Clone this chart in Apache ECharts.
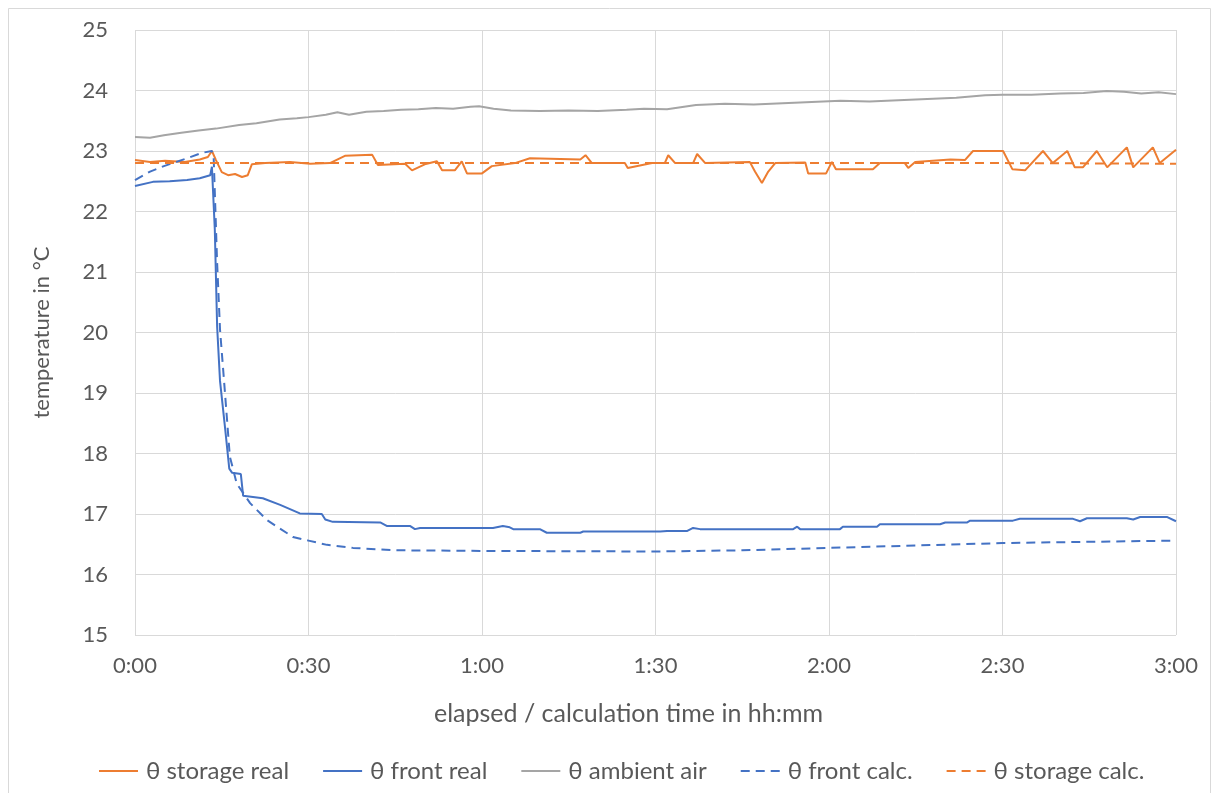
<!DOCTYPE html>
<html>
<head>
<meta charset="utf-8">
<script src="https://cdn.jsdelivr.net/npm/echarts@6/dist/echarts.min.js"></script>
<style>
  html, body { margin: 0; padding: 0; background: #ffffff; }
  #chart { width: 1215px; height: 793px; }
</style>
</head>
<body>
<div id="chart"></div>
<script>
// Elapsed time in minutes, temperatures in °C
const storageRealT = [0, 2.6, 5.2, 8.6, 11.2, 12.6, 13.3, 14, 15, 16.1, 17.3, 18.5, 19.5, 20.2, 22.5, 26.8, 30.3, 33.7, 36.3, 41, 42, 46.7, 47.9, 50.1, 52.2, 53.1, 55.3, 56.5, 57.4, 60, 61.7, 65.7, 68.3, 77, 77.9, 79, 84.7, 85.2, 89.4, 91.6, 92.2, 93.4, 96.5, 97.2, 98.6, 106.3, 107.2, 108.4, 109.5, 110.7, 115.9, 116.4, 119.5, 120.5, 121.2, 127.6, 128.8, 133.1, 133.7, 134.9, 141, 143.5, 144.9, 150.1, 151.7, 153.9, 157, 158.7, 161.2, 162.5, 163.9, 166.3, 168.1, 171.5, 172.6, 176, 177.2, 180];
const storageRealV = [22.85, 22.82, 22.84, 22.82, 22.86, 22.9, 23.0, 22.85, 22.65, 22.6, 22.62, 22.57, 22.6, 22.78, 22.8, 22.82, 22.79, 22.8, 22.92, 22.94, 22.77, 22.79, 22.68, 22.78, 22.83, 22.68, 22.68, 22.83, 22.63, 22.63, 22.75, 22.8, 22.88, 22.86, 22.93, 22.8, 22.8, 22.72, 22.8, 22.8, 22.93, 22.8, 22.8, 22.95, 22.8, 22.82, 22.66, 22.47, 22.66, 22.8, 22.81, 22.63, 22.63, 22.82, 22.7, 22.7, 22.8, 22.8, 22.72, 22.82, 22.86, 22.85, 23.0, 23.0, 22.7, 22.68, 23.0, 22.8, 23.0, 22.73, 22.73, 23.0, 22.73, 23.06, 22.73, 23.06, 22.8, 23.02];

const frontRealT = [0, 3.1, 6, 9, 11.2, 13, 13.3, 13.8, 14.2, 14.7, 15.6, 16.3, 16.8, 18.3, 18.7, 22.1, 25.1, 28.5, 32.3, 32.9, 34.2, 42.4, 43.6, 47.6, 48.4, 49.3, 61.9, 63.6, 64.8, 65.4, 70, 71.2, 77, 77.5, 90.8, 92, 95.5, 96.5, 97.7, 106.3, 113.8, 114.5, 115, 121.9, 122.4, 128.3, 128.8, 139.2, 140.1, 143.9, 144.4, 151.8, 153, 162.2, 163.4, 164.6, 171.5, 172.6, 173.8, 178.5, 180];
const frontRealV = [22.42, 22.49, 22.5, 22.52, 22.55, 22.6, 22.74, 21.7, 20.1, 19.2, 18.4, 17.75, 17.68, 17.66, 17.3, 17.26, 17.15, 17.01, 17.0, 16.91, 16.87, 16.86, 16.8, 16.8, 16.75, 16.77, 16.77, 16.8, 16.78, 16.75, 16.75, 16.69, 16.69, 16.71, 16.71, 16.72, 16.72, 16.77, 16.75, 16.75, 16.75, 16.79, 16.75, 16.75, 16.79, 16.79, 16.83, 16.83, 16.86, 16.86, 16.89, 16.89, 16.92, 16.92, 16.88, 16.93, 16.93, 16.91, 16.95, 16.95, 16.88];

const ambientT = [0, 2.6, 5, 8, 11, 14, 18, 21, 25, 28, 30, 33, 35, 37, 40, 43, 46, 49, 52, 55, 58, 59.5, 62, 65, 70, 75, 80, 85, 88, 92, 97, 102, 107, 112, 117, 122, 127, 132, 137, 142, 147, 150, 155, 160, 164, 168, 171, 174, 177, 180];
const ambientV = [23.23, 23.22, 23.26, 23.3, 23.34, 23.37, 23.43, 23.46, 23.52, 23.54, 23.56, 23.6, 23.64, 23.6, 23.65, 23.66, 23.68, 23.69, 23.71, 23.7, 23.73, 23.74, 23.7, 23.67, 23.66, 23.67, 23.66, 23.68, 23.7, 23.69, 23.76, 23.78, 23.77, 23.79, 23.81, 23.83, 23.82, 23.84, 23.86, 23.88, 23.92, 23.93, 23.93, 23.95, 23.96, 23.99, 23.98, 23.95, 23.97, 23.94];

const frontCalcT = [0, 2.6, 5, 9, 11.6, 13.3, 13.6, 14.2, 14.7, 15.6, 16.4, 17.6, 19.9, 22.8, 27.3, 30, 33.2, 37.7, 45, 60, 90, 105, 120, 135, 150, 165, 180];
const frontCalcV = [22.52, 22.66, 22.75, 22.88, 22.97, 23.0, 22.9, 21.15, 20.05, 18.95, 17.95, 17.5, 17.18, 16.9, 16.62, 16.56, 16.49, 16.44, 16.4, 16.39, 16.38, 16.4, 16.44, 16.48, 16.52, 16.54, 16.56];

const storageCalcT = [0, 30, 60, 90, 120, 150, 180];
const storageCalcV = [22.8, 22.8, 22.8, 22.8, 22.8, 22.8, 22.79];

const seriesNames = ['θ storage real', 'θ front real', 'θ ambient air', 'θ front calc.', 'θ storage calc.'];

const zip = (t, v) => t.map((x, i) => [x, v[i]]);

const FONT = 'Lato';
const TXT = '#595959';
const GRID = '#d9d9d9';

function lineSeries(name, data, color, dashed) {
  return {
    name: name,
    type: 'line',
    data: data,
    symbol: 'none',
    smooth: false,
    animation: false,
    lineStyle: { color: color, width: 2, type: dashed ? [9, 6] : 'solid' },
    itemStyle: { color: color }
  };
}

const chart = echarts.init(document.getElementById('chart'), null, { renderer: 'canvas' });
chart.setOption({
  backgroundColor: '#ffffff',
  animation: false,
  textStyle: { fontFamily: FONT },
  grid: { left: 135, right: 39, top: 30, bottom: 158, containLabel: false },
  graphic: [{
    type: 'rect',
    shape: { x: 8.5, y: 8.5, width: 1202, height: 800 },
    style: { fill: 'none', stroke: GRID, lineWidth: 1 },
    silent: true
  }],
  xAxis: {
    type: 'value',
    min: 0, max: 180, interval: 30,
    name: 'elapsed / calculation time in hh:mm',
    nameLocation: 'middle',
    nameGap: 66,
    nameTextStyle: { color: TXT, fontSize: 25, fontFamily: FONT, verticalAlign: 'top', padding: [0, 54, 0, 0] },
    axisLine: { show: false },
    axisTick: { show: false },
    splitLine: { show: true, lineStyle: { color: GRID, width: 1 } },
    axisLabel: {
      color: TXT, fontSize: 22, fontFamily: FONT, margin: 20,
      formatter: v => Math.floor(v / 60) + ':' + String(v % 60).padStart(2, '0')
    }
  },
  yAxis: {
    type: 'value',
    min: 15, max: 25, interval: 1,
    name: 'temperature in °C',
    nameLocation: 'middle',
    nameGap: 82,
    nameTextStyle: { color: TXT, fontSize: 22, fontFamily: FONT },
    axisLine: { show: false },
    axisTick: { show: false },
    splitLine: { show: true, lineStyle: { color: GRID, width: 1 } },
    axisLabel: { color: TXT, fontSize: 22, fontFamily: FONT, margin: 27 }
  },
  legend: {
    data: seriesNames,
    top: 754,
    left: 93,
    itemWidth: 39,
    itemHeight: 14,
    itemGap: 33,
    itemStyle: { opacity: 0 },
    textStyle: { color: TXT, fontSize: 24, fontFamily: FONT, padding: [0, 0, 0, 3] },
    selectedMode: false
  },
  series: [
    lineSeries(seriesNames[0], zip(storageRealT, storageRealV), '#ED7D31', false),
    lineSeries(seriesNames[1], zip(frontRealT, frontRealV), '#4472C4', false),
    lineSeries(seriesNames[2], zip(ambientT, ambientV), '#A5A5A5', false),
    lineSeries(seriesNames[3], zip(frontCalcT, frontCalcV), '#4472C4', true),
    lineSeries(seriesNames[4], zip(storageCalcT, storageCalcV), '#ED7D31', true)
  ]
});
</script>
</body>
</html>
